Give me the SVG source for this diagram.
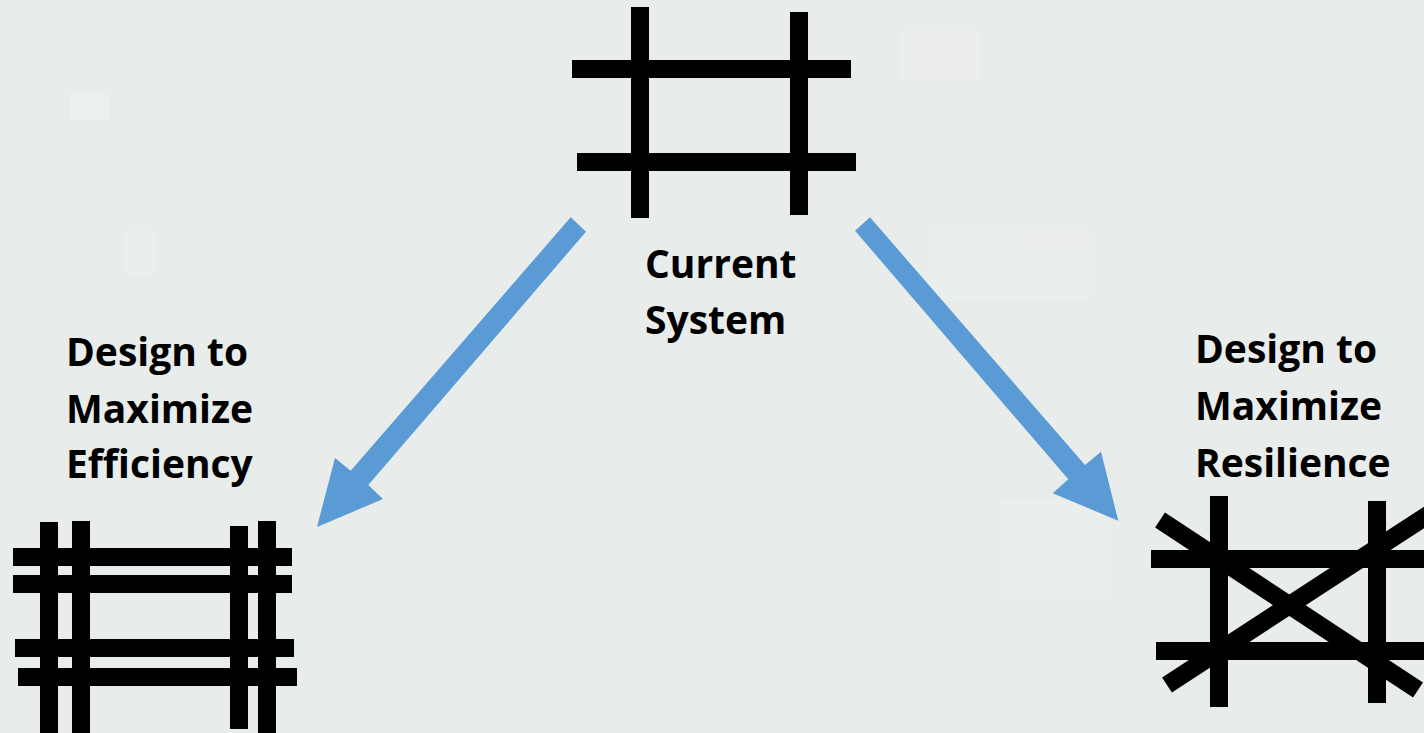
<svg xmlns="http://www.w3.org/2000/svg" width="1424" height="733" viewBox="0 0 1424 733">
  <style>
    .bar { fill: #000000; }
    .arrow { fill: #5B9BD5; }
    .label { font-family: "Open Sans", "Liberation Sans", sans-serif; font-weight: bold; font-size: 39px; fill: #000000; }
  </style>

  <!-- backdrop -->
  <rect x="0" y="0" width="1424" height="733" fill="#E8ECEA"/>
  <g opacity="0.3">
    <rect x="70" y="90" width="40" height="30" fill="#F3F6F4"/>
    <rect x="125" y="230" width="30" height="45" fill="#F1F4F2"/>
    <rect x="900" y="30" width="80" height="50" fill="#F2F4F1"/>
    <rect x="930" y="230" width="160" height="70" fill="#F1F3F1"/>
    <rect x="1000" y="500" width="110" height="100" fill="#F2F4F1"/>
  </g>

  <!-- Current System -->
  <g id="current-system">
    <rect class="bar" x="631" y="7" width="18" height="211"/>
    <rect class="bar" x="790" y="12" width="18" height="203"/>
    <rect class="bar" x="572" y="60" width="279" height="18"/>
    <rect class="bar" x="577" y="153" width="279" height="18"/>
    <text class="label" x="645" y="278">Current</text>
    <text class="label" x="645" y="334">System</text>
  </g>

  <!-- Design to Maximize Efficiency -->
  <g id="efficiency">
    <rect class="bar" x="40" y="522" width="18" height="211"/>
    <rect class="bar" x="72" y="521" width="18" height="212"/>
    <rect class="bar" x="230" y="526" width="18" height="203"/>
    <rect class="bar" x="258" y="521" width="18" height="212"/>
    <rect class="bar" x="13" y="548" width="279" height="18"/>
    <rect class="bar" x="13" y="575" width="279" height="18"/>
    <rect class="bar" x="15" y="639" width="279" height="18"/>
    <rect class="bar" x="18" y="668" width="279" height="18"/>
    <text class="label" x="66" y="366">Design to</text>
    <text class="label" x="66" y="423">Maximize</text>
    <text class="label" x="66" y="478">Efficiency</text>
  </g>

  <!-- Design to Maximize Resilience -->
  <g id="resilience">
    <rect class="bar" x="1210" y="496" width="18" height="211"/>
    <rect class="bar" x="1368" y="501" width="18" height="202"/>
    <rect class="bar" x="1151" y="550" width="273" height="18"/>
    <rect class="bar" x="1156" y="642" width="268" height="18"/>
    <line x1="1160" y1="520" x2="1418" y2="690" stroke="#000000" stroke-width="18"/>
    <line x1="1167" y1="685" x2="1440" y2="507" stroke="#000000" stroke-width="18"/>
    <text class="label" x="1195" y="363">Design to</text>
    <text class="label" x="1195" y="420">Maximize</text>
    <text class="label" x="1195" y="477">Resilience</text>
  </g>

  <!-- connectors -->
  <g id="connectors">
    <polygon class="arrow" points="570.7,217.3 586,231.7 368.3,485 383,499 317,527 335,458 350.7,470.7"/>
    <polygon class="arrow" points="870,217.3 855,230.7 1068.3,479.3 1052.7,493.3 1118.3,520.7 1101,451.7 1085,465"/>
  </g>
</svg>
